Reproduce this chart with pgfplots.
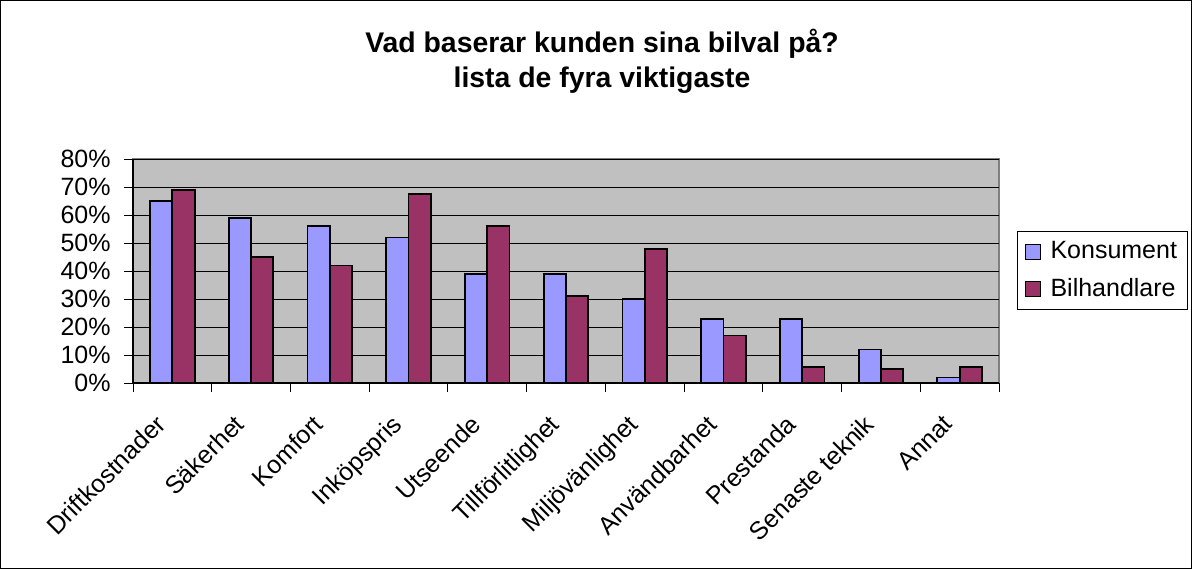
\documentclass[border=0pt]{standalone}
\usepackage{pgfplots}
\pgfplotsset{compat=1.18}
\usepackage{fontspec}
\setmainfont{Liberation Sans}
\definecolor{konsument}{HTML}{9999FF}
\definecolor{bilhandlare}{HTML}{993366}
\definecolor{plotbg}{HTML}{C0C0C0}
\definecolor{frame}{HTML}{808080}
\begin{document}
\begin{tikzpicture}
\useasboundingbox (0,0) rectangle (596pt,284.5pt);
\draw[black, line width=0.5pt] (0.25pt,0.25pt) rectangle (595.75pt,284.25pt);
\node[font=\fontsize{14.2}{17.5}\selectfont\bfseries, align=center] at (301pt,254pt)
  {Vad baserar kunden sina bilval på?\\lista de fyra viktigaste};
\begin{axis}[
  at={(66.5pt,93pt)}, anchor=south west,
  scale only axis, width=433pt, height=112pt,
  ybar=0pt, bar width=0.283,
  xmin=-0.5, xmax=10.5, ymin=0, ymax=80,
  xtick={0,...,10},
  xticklabels={Driftkostnader,Säkerhet,Komfort,Inköpspris,Utseende,Tillförlitlighet,
               Miljövänlighet,Användbarhet,Prestanda,Senaste teknik,Annat},
  major x tick style={draw=none},
  minor xtick={-0.5,0.5,...,10.5},
  ytick={0,10,...,80},
  yticklabel={\pgfmathprintnumber{\tick}\%},
  /pgf/number format/assume math mode=true,
  tick align=outside, major tick length=4.5pt, minor tick length=4.5pt,
  tick style={black, line width=0.5pt},
  ymajorgrids, grid style={black, line width=0.5pt},
  axis background/.style={fill=plotbg, draw=frame, line width=0.6pt},
  axis lines*=left, axis line style={black, line width=0.6pt, -},
  ticklabel style={font=\fontsize{12.5}{15}\selectfont},
  xticklabel style={xshift=-9pt, yshift=-9pt, rotate=45, anchor=north east, inner sep=1pt},
  yticklabel style={inner sep=1pt, xshift=-5.5pt},
  legend style={at={(1.0208,0.679)}, anchor=north west, draw=black, line width=0.5pt,
    font=\fontsize{12.5}{15}\selectfont, row sep=4.5pt, column sep=3pt,
    inner xsep=3.5pt, inner ysep=3pt, cells={anchor=west}},
  legend image code/.code={\draw[#1, line width=0.5pt] (0pt,-3.75pt) rectangle (7.5pt,3.75pt);},
]
\addplot[draw=black, line width=0.9pt, fill=konsument] coordinates {
  (0,65) (1,59) (2,56) (3,52) (4,39) (5,39) (6,30) (7,23) (8,23) (9,12) (10,2)};
\addlegendentry{Konsument}
\addplot[draw=black, line width=0.9pt, fill=bilhandlare] coordinates {
  (0,69) (1,45) (2,42) (3,67.5) (4,56) (5,31) (6,48) (7,17) (8,5.6) (9,5) (10,5.6)};
\addlegendentry{Bilhandlare}
\end{axis}
\end{tikzpicture}
\end{document}
